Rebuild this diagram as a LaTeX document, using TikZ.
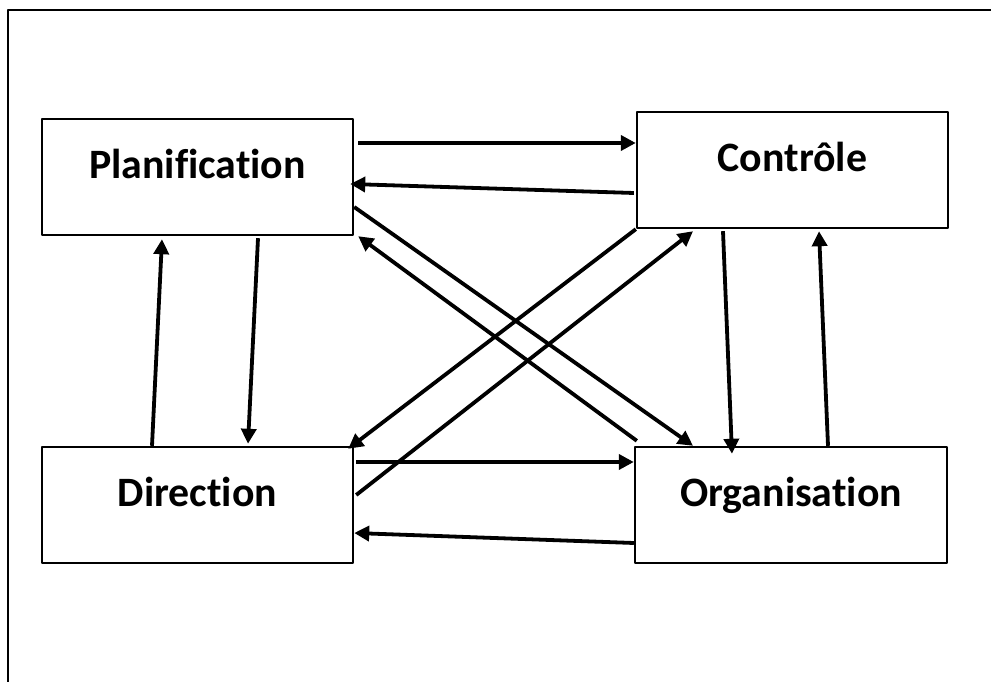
\documentclass[tikz,border=0pt]{standalone}
\usepackage{fontspec}
\setmainfont{Carlito}[Ligatures=NoCommon]
\usetikzlibrary{arrows.meta}
\tikzset{
  box/.style={draw,line width=2.4bp,minimum width=311bp,minimum height=116bp,inner sep=0pt,
    text height=27bp,text depth=23bp,font=\fontsize{42}{50}\selectfont\bfseries},
  link/.style={black,->,line width=3.8bp},
}
\begin{document}
\begin{tikzpicture}[>={Triangle[length=15bp,width=15bp]},line join=bevel,]
\useasboundingbox (0bp,0bp) rectangle (991bp,682bp);
\draw [line width=2bp] (8bp,0bp) |- (991bp,672bp);
%%
\node (plan) at (197.5bp,505bp) [box] {Planification};
  \node (ctrl) at (792.5bp,512bp) [box] {Contrôle};
  \node (dir) at (197.5bp,177bp) [box] {Direction};
  \node (org) at (791bp,177bp) [box,minimum width=312bp] {Organisation};
  \draw [link] ([xshift=4bp,yshift=34bp]plan.east) -- ([yshift=27bp]ctrl.west);
  \draw [link] ([xshift=-2bp,yshift=-23bp]ctrl.west) -- ([xshift=-4bp,yshift=-7bp]plan.east);
  \draw [link] ([yshift=-30bp]plan.east) -- ([xshift=-98bp]org.north);
  \draw [link] ([xshift=3bp,yshift=5bp]org.north west) -- ([xshift=4bp]plan.south east);
  \draw [link] (ctrl.south west) -- ([xshift=-6bp,yshift=-3bp]dir.north east);
  \draw [link] ([xshift=2bp,yshift=10bp]dir.east) -- ([xshift=-99.5bp,yshift=-2bp]ctrl.south);
  \draw [link] ([xshift=2bp,yshift=43bp]dir.east) -- ([yshift=43bp]org.west);
  \draw [link] ([yshift=-38bp]org.west) -- ([yshift=-28bp]dir.east);
  \draw [link] ([xshift=60.5bp,yshift=-2bp]plan.south) -- ([xshift=50.5bp,yshift=2bp]dir.north);
  \draw [link] ([xshift=-45.5bp]dir.north) -- ([xshift=-35.5bp,yshift=-3bp]plan.south);
  \draw [link] ([xshift=-69.5bp,yshift=-2bp]ctrl.south) -- ([xshift=-59bp,yshift=-8bp]org.north);
  \draw [link] ([xshift=37bp]org.north) -- ([xshift=26.5bp,yshift=-2bp]ctrl.south);
%
\end{tikzpicture}
\end{document}
